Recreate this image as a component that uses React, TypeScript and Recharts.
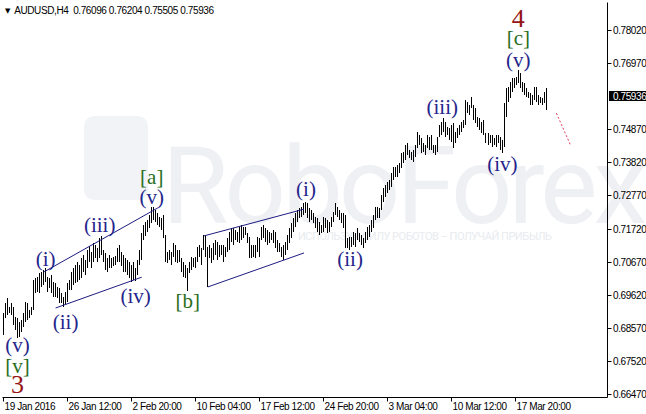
import React from 'react';
import { ComposedChart, Bar, Line, XAxis, YAxis, ReferenceLine, ReferenceDot } from 'recharts';

// ---- data ----
const highs = [
  0.6905, 0.6937, 0.6952, 0.6925, 0.6937, 0.6925, 0.6893, 0.6889, 0.6877, 0.6883,
  0.6905, 0.6940, 0.6937, 0.6915, 0.6925, 0.7010, 0.7016, 0.7019, 0.7032, 0.7035,
  0.7042, 0.7048, 0.7019, 0.7016, 0.7026, 0.7004, 0.7000, 0.6988, 0.6984, 0.6968,
  0.6956, 0.6972, 0.7000, 0.7010, 0.7035, 0.7048, 0.7058, 0.7067, 0.7058, 0.7080,
  0.7089, 0.7073, 0.7105, 0.7118, 0.7099, 0.7127, 0.7121, 0.7111, 0.7143, 0.7150,
  0.7105, 0.7096, 0.7080, 0.7089, 0.7080, 0.7083, 0.7086, 0.7111, 0.7121, 0.7099,
  0.7089, 0.7080, 0.7073, 0.7067, 0.7058, 0.7067, 0.7048, 0.7073, 0.7105, 0.7159,
  0.7185, 0.7194, 0.7201, 0.7216, 0.7242, 0.7242, 0.7232, 0.7223, 0.7210, 0.7207,
  0.7216, 0.7153, 0.7099, 0.7105, 0.7099, 0.7127, 0.7121, 0.7105, 0.7105, 0.7080,
  0.7067, 0.7058, 0.7048, 0.7067, 0.7083, 0.7080, 0.7083, 0.7115, 0.7121, 0.7111,
  0.7153, 0.7153, 0.7115, 0.7121, 0.7111, 0.7127, 0.7137, 0.7131, 0.7121, 0.7121,
  0.7121, 0.7115, 0.7143, 0.7162, 0.7175, 0.7175, 0.7169, 0.7162, 0.7178, 0.7185,
  0.7178, 0.7178, 0.7159, 0.7146, 0.7121, 0.7121, 0.7121, 0.7146, 0.7143, 0.7178,
  0.7185, 0.7175, 0.7169, 0.7162, 0.7159, 0.7169, 0.7162, 0.7137, 0.7127, 0.7115,
  0.7121, 0.7131, 0.7153, 0.7175, 0.7191, 0.7207, 0.7223, 0.7232, 0.7239, 0.7242,
  0.7255, 0.7258, 0.7255, 0.7239, 0.7232, 0.7223, 0.7210, 0.7207, 0.7194, 0.7185,
  0.7210, 0.7207, 0.7201, 0.7194, 0.7210, 0.7226, 0.7255, 0.7242, 0.7232, 0.7223,
  0.7223, 0.7216, 0.7143, 0.7146, 0.7146, 0.7162, 0.7159, 0.7175, 0.7159, 0.7153,
  0.7143, 0.7162, 0.7178, 0.7185, 0.7201, 0.7216, 0.7242, 0.7242, 0.7239, 0.7280,
  0.7302, 0.7312, 0.7321, 0.7328, 0.7350, 0.7369, 0.7369, 0.7375, 0.7382, 0.7413,
  0.7417, 0.7439, 0.7445, 0.7423, 0.7417, 0.7423, 0.7439, 0.7480, 0.7471, 0.7461,
  0.7445, 0.7439, 0.7471, 0.7464, 0.7471, 0.7439, 0.7439, 0.7464, 0.7502, 0.7512,
  0.7525, 0.7512, 0.7496, 0.7493, 0.7502, 0.7509, 0.7480, 0.7493, 0.7502, 0.7512,
  0.7518, 0.7582, 0.7576, 0.7566, 0.7591, 0.7566, 0.7556, 0.7528, 0.7525, 0.7512,
  0.7518, 0.7477, 0.7477, 0.7471, 0.7471, 0.7461, 0.7471, 0.7471, 0.7464, 0.7455,
  0.7572, 0.7620, 0.7623, 0.7639, 0.7652, 0.7652, 0.7655, 0.7677, 0.7668, 0.7639,
  0.7636, 0.7620, 0.7607, 0.7604, 0.7598, 0.7623, 0.7623, 0.7598, 0.7591, 0.7588,
  0.7607, 0.76204,
];
const lows = [
  0.6835, 0.6889, 0.6899, 0.6905, 0.6899, 0.6867, 0.6851, 0.6825, 0.6829, 0.6845,
  0.6861, 0.6877, 0.6883, 0.6889, 0.6899, 0.6915, 0.6968, 0.6972, 0.6968, 0.6988,
  0.6994, 0.7004, 0.6972, 0.6984, 0.6968, 0.6956, 0.6956, 0.6952, 0.6937, 0.6937,
  0.6925, 0.6931, 0.6940, 0.6978, 0.6978, 0.6994, 0.7000, 0.7004, 0.7010, 0.7016,
  0.7035, 0.7026, 0.7048, 0.7067, 0.7048, 0.7067, 0.7080, 0.7067, 0.7080, 0.7089,
  0.7067, 0.7042, 0.7035, 0.7048, 0.7048, 0.7054, 0.7058, 0.7067, 0.7067, 0.7054,
  0.7035, 0.7035, 0.7026, 0.7016, 0.7004, 0.7010, 0.7007, 0.7026, 0.7058, 0.7073,
  0.7137, 0.7150, 0.7162, 0.7175, 0.7191, 0.7201, 0.7194, 0.7185, 0.7178, 0.7169,
  0.7143, 0.7067, 0.7064, 0.7073, 0.7058, 0.7083, 0.7067, 0.7064, 0.7067, 0.7035,
  0.7019, 0.7016, 0.6975, 0.7032, 0.7042, 0.7051, 0.7048, 0.7067, 0.7083, 0.7058,
  0.7105, 0.7083, 0.6988, 0.7080, 0.7064, 0.7073, 0.7089, 0.7073, 0.7083, 0.7089,
  0.7067, 0.7083, 0.7099, 0.7105, 0.7131, 0.7121, 0.7137, 0.7131, 0.7127, 0.7137,
  0.7143, 0.7153, 0.7127, 0.7080, 0.7080, 0.7083, 0.7080, 0.7099, 0.7083, 0.7137,
  0.7143, 0.7131, 0.7121, 0.7127, 0.7137, 0.7127, 0.7111, 0.7099, 0.7099, 0.7083,
  0.7073, 0.7089, 0.7105, 0.7127, 0.7143, 0.7162, 0.7178, 0.7194, 0.7207, 0.7210,
  0.7216, 0.7223, 0.7207, 0.7194, 0.7201, 0.7191, 0.7175, 0.7162, 0.7153, 0.7159,
  0.7162, 0.7175, 0.7159, 0.7162, 0.7178, 0.7194, 0.7216, 0.7210, 0.7201, 0.7191,
  0.7175, 0.7111, 0.7111, 0.7105, 0.7115, 0.7121, 0.7115, 0.7137, 0.7131, 0.7121,
  0.7111, 0.7127, 0.7137, 0.7146, 0.7162, 0.7175, 0.7201, 0.7207, 0.7207, 0.7232,
  0.7258, 0.7274, 0.7286, 0.7296, 0.7305, 0.7328, 0.7337, 0.7337, 0.7350, 0.7366,
  0.7382, 0.7391, 0.7407, 0.7398, 0.7391, 0.7385, 0.7401, 0.7429, 0.7439, 0.7413,
  0.7417, 0.7407, 0.7429, 0.7423, 0.7423, 0.7413, 0.7407, 0.7417, 0.7464, 0.7471,
  0.7480, 0.7464, 0.7471, 0.7455, 0.7449, 0.7429, 0.7445, 0.7461, 0.7471, 0.7480,
  0.7493, 0.7502, 0.7540, 0.7534, 0.7556, 0.7518, 0.7509, 0.7496, 0.7486, 0.7477,
  0.7471, 0.7445, 0.7439, 0.7445, 0.7432, 0.7439, 0.7432, 0.7445, 0.7423, 0.7413,
  0.7432, 0.7528, 0.7576, 0.7588, 0.7607, 0.7620, 0.7629, 0.7636, 0.7620, 0.7607,
  0.7598, 0.7591, 0.7588, 0.7566, 0.7566, 0.7582, 0.7576, 0.7566, 0.7572, 0.7566,
  0.7572, 0.75505,
];
const slotCount = 302;
const timeTickIndex = [0, 32, 64, 96, 128, 160, 192, 224, 256];
const timeTickLabels = [
  '19 Jan 2016', '26 Jan 12:00', '2 Feb 20:00', '10 Feb 04:00', '17 Feb 12:00',
  '24 Feb 20:00', '3 Mar 04:00', '10 Mar 12:00', '17 Mar 20:00',
];
const priceTicks = [0.7802, 0.7697, 0.7487, 0.7382, 0.7277, 0.7172, 0.7067, 0.6962, 0.6857, 0.6752, 0.6647];
const symbol = 'AUDUSD,H4';
const lastOHLC = [0.76096, 0.76204, 0.75505, 0.75936];
const lastPrice = 0.75936;
const forecastIndex = [276, 283];
const forecastPrice = [0.7540, 0.7439];
const trendLines = [
  { i1: 20, p1: 0.7035, i2: 77, p2: 0.7239 },
  { i1: 26, p1: 0.6921, i2: 69, p2: 0.7019 },
  { i1: 100, p1: 0.7150, i2: 150, p2: 0.7235 },
  { i1: 102, p1: 0.6988, i2: 150, p2: 0.7096 },
];
const waveLabels = [
  { t: '(v)', i: 7, p: 0.6781, d: 'minute' },
  { t: '[v]', i: 7, p: 0.6714, d: 'minor' },
  { t: '3', i: 7, p: 0.6651, d: 'inter' },
  { t: '(i)', i: 21, p: 0.7054, d: 'minute' },
  { t: '(ii)', i: 31, p: 0.6854, d: 'minute' },
  { t: '(iii)', i: 48, p: 0.7162, d: 'minute' },
  { t: '(iv)', i: 66, p: 0.6937, d: 'minute' },
  { t: '(v)', i: 74, p: 0.7251, d: 'minute' },
  { t: '[a]', i: 74, p: 0.7315, d: 'minor' },
  { t: '[b]', i: 92, p: 0.6921, d: 'minor' },
  { t: '(i)', i: 151, p: 0.7277, d: 'minute' },
  { t: '(ii)', i: 173, p: 0.7054, d: 'minute' },
  { t: '(iii)', i: 219, p: 0.7537, d: 'minute' },
  { t: '(iv)', i: 249, p: 0.7356, d: 'minute' },
  { t: '(v)', i: 257, p: 0.7687, d: 'minute' },
  { t: '[c]', i: 257, p: 0.7757, d: 'minor' },
  { t: '4', i: 257, p: 0.7814, d: 'inter' },
];

const data = Array.from({ length: slotCount }, (_, i) => {
  const fi = forecastIndex.indexOf(i);
  return {
    i,
    hl: i < highs.length ? [lows[i], highs[i]] : undefined,
    fc: fi >= 0 ? forecastPrice[fi] : undefined,
  };
});

// ---- styles ----
const W = 646;
const H = 414;
const uiFont = '"Liberation Sans", Arial, sans-serif';
const uiSize = 10;
const uiSpacing = -0.4;
const serif = '"Liberation Serif", "Times New Roman", serif';
const labelColor: Record<string, string> = { minute: '#25258c', minor: '#2a6e1e', inter: '#951414' };
const labelSize: Record<string, number> = { minute: 21, minor: 21, inter: 26 };

const BarShape = (props: any) => {
  const { x, y, width, height, payload } = props;
  if (!payload || !payload.hl || !isFinite(x) || !isFinite(y)) return null;
  const cx = Math.floor(x + width / 2 - 0.5);
  const y1 = Math.round(Math.min(y, y + height));
  const y2 = Math.round(Math.max(y, y + height));
  return <rect x={cx} y={y1} width={1} height={Math.max(1, y2 - y1)} fill="#000" />;
};

const XTick = (props: any) => {
  const { x, y, payload } = props;
  const k = timeTickIndex.indexOf(payload.value);
  if (k < 0) return null;
  const xx = Math.floor(x - 0.5) + 0.5;
  return (
    <g>
      <line x1={xx} x2={xx} y1={y} y2={y + 4} stroke="#000" />
      <text x={xx + 1} y={y + 12} fontSize={uiSize} letterSpacing={uiSpacing} fontFamily={uiFont} fill="#000">
        {timeTickLabels[k]}
      </text>
    </g>
  );
};

const YTick = (props: any) => {
  const { x, y, payload } = props;
  const yy = Math.round(y - 0.5) + 0.5;
  return (
    <g>
      <line x1={x} x2={x + 4} y1={yy} y2={yy} stroke="#000" />
      <text x={x + 5.5} y={yy + 3.5} fontSize={uiSize} letterSpacing={uiSpacing} fontFamily={uiFont} fill="#000">
        {Number(payload.value).toFixed(5)}
      </text>
    </g>
  );
};

const makeLabel = (t: string, d: string) => (props: any) => {
  const { cx, cy } = props;
  if (!isFinite(cx) || !isFinite(cy)) return null;
  return (
    <text x={cx} y={cy} textAnchor="middle" fontSize={labelSize[d]} fontFamily={serif} fill={labelColor[d]}>
      {t}
    </text>
  );
};

const LastPriceMark = (props: any) => {
  const { cy } = props;
  if (!isFinite(cy)) return null;
  const yy = Math.round(cy);
  return (
    <g>
      <rect x={609} y={yy - 5} width={40} height={10} fill="#000" />
      <text x={613} y={yy + 3.5} fontSize={uiSize} letterSpacing={uiSpacing} fontFamily={uiFont} fill="#fff">
        {lastPrice.toFixed(5)}
      </text>
    </g>
  );
};

export default function App() {
  return (
    <div style={{ position: 'absolute', left: 0, top: 0, width: W, height: H, background: '#fff', overflow: 'hidden' }}>
      <svg width={W} height={H} style={{ position: 'absolute', left: 0, top: 0 }}>
        <rect x={84} y={116} width={64} height={84} rx={10} fill="#f1f3f6" />
        <text x={162} y={223} fontSize={108} fontFamily="Roboto, sans-serif" fill="#eef0f4" letterSpacing={-4}>
          RoboForex
        </text>
        <text x={298} y={240} fontSize={11} fontFamily="Roboto, sans-serif" fill="#e8ebef" textLength={254}>
          ИСПОЛЬЗУЙ СИЛУ РОБОТОВ – ПОЛУЧАЙ ПРИБЫЛЬ
        </text>
      </svg>
      <div style={{ position: 'absolute', left: 0, top: 0 }}>
        <ComposedChart width={W} height={H} data={data} margin={{ top: 2.5, left: 2.5, right: 0, bottom: 0 }}>
          <XAxis
            dataKey="i"
            type="category"
            ticks={timeTickIndex}
            interval={0}
            tickSize={0}
            tickMargin={0}
            tickLine={false}
            height={16.5}
            axisLine={{ stroke: '#000' }}
            tick={XTick}
          />
          <XAxis xAxisId="top" dataKey="i" orientation="top" height={0} tick={false} tickLine={false} axisLine={{ stroke: '#000' }} />
          <YAxis
            orientation="right"
            domain={[0.663678, 0.789158]}
            allowDataOverflow
            ticks={priceTicks}
            interval={0}
            tickSize={0}
            tickMargin={0}
            tickLine={false}
            width={38.5}
            axisLine={{ stroke: '#000' }}
            tick={YTick}
          />
          <YAxis yAxisId="left" orientation="left" width={0} tick={false} tickLine={false} axisLine={{ stroke: '#000' }} />
          <Bar dataKey="hl" isAnimationActive={false} shape={BarShape} />
          <Line
            dataKey="fc"
            connectNulls
            stroke="#e23a5c"
            strokeWidth={1}
            strokeDasharray="2 2"
            dot={false}
            isAnimationActive={false}
          />
          {trendLines.map((l, k) => (
            <ReferenceLine
              key={'tl' + k}
              segment={[{ x: l.i1, y: l.p1 }, { x: l.i2, y: l.p2 }]}
              stroke="#1c1c80"
              strokeWidth={1}
              ifOverflow="visible"
            />
          ))}
          {waveLabels.map((w, k) => (
            <ReferenceDot key={'wl' + k} x={w.i} y={w.p} r={3} ifOverflow="visible" shape={makeLabel(w.t, w.d)} />
          ))}
          <ReferenceDot x={slotCount - 1} y={lastPrice} r={3} ifOverflow="visible" shape={LastPriceMark} />
        </ComposedChart>
      </div>
      <div
        style={{
          position: 'absolute',
          left: 5,
          top: 5,
          fontFamily: uiFont,
          fontSize: uiSize,
          letterSpacing: uiSpacing,
          color: '#000',
          whiteSpace: 'pre',
          lineHeight: '12px',
        }}
      >
        <span style={{ fontSize: 7, fontFamily: '"DejaVu Sans", sans-serif', position: 'relative', top: -1 }}>▼</span>
        {'  ' + symbol + '  ' + lastOHLC.map((v) => v.toFixed(5)).join(' ')}
      </div>
    </div>
  );
}
